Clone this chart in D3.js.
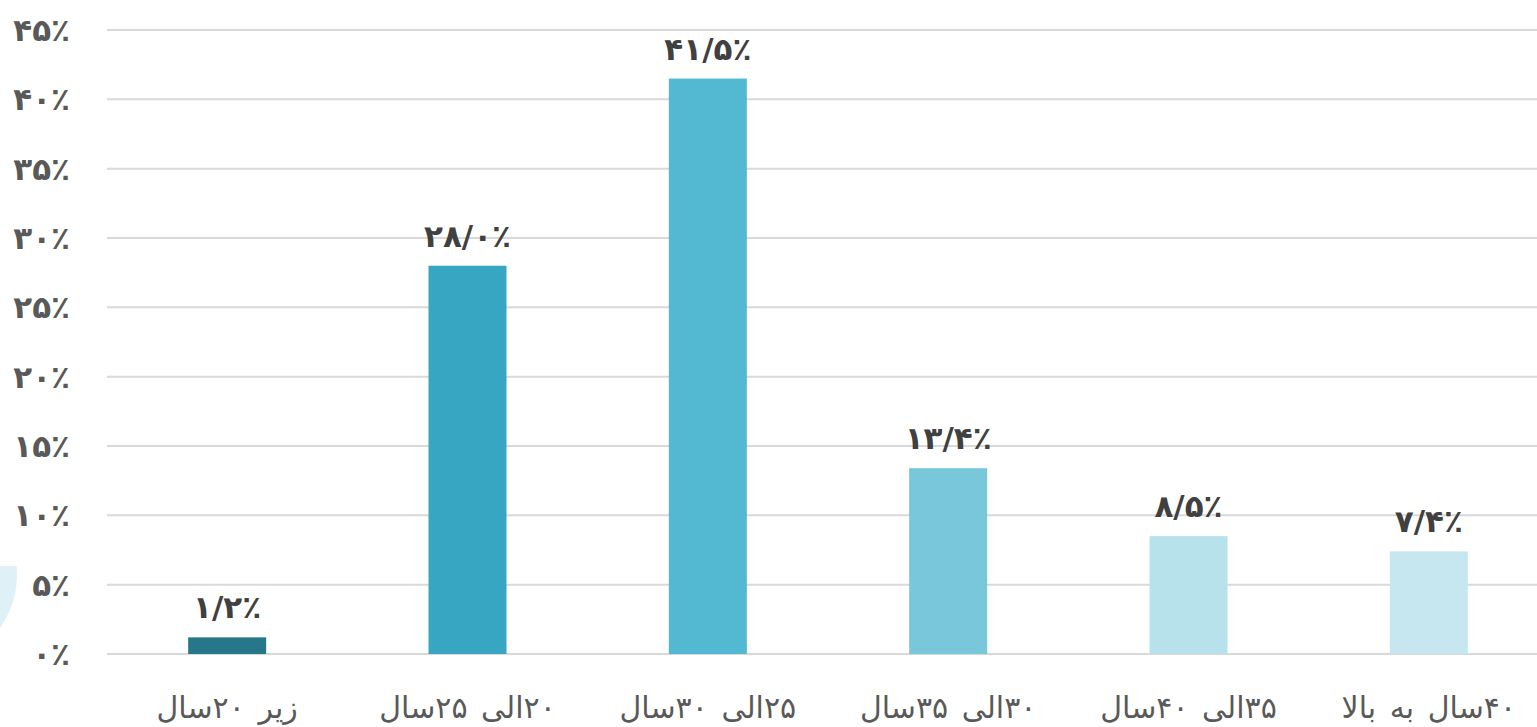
<!DOCTYPE html>
<html>
<head>
<meta charset="utf-8">
<script src="https://cdn.jsdelivr.net/npm/d3@7"></script>
<style>
  html, body { margin: 0; padding: 0; background: #fff; }
  svg { display: block; font-family: "DejaVu Sans", sans-serif; }
</style>
</head>
<body>
<svg width="1537" height="727"></svg>
<script>
// age groups and share of respondents (%)
var categories = ["زیر ۲۰سال", "۲۰الی ۲۵سال", "۲۵الی ۳۰سال", "۳۰الی ۳۵سال", "۳۵الی ۴۰سال", "۴۰سال به بالا"];
var values = [1.2, 28.0, 41.5, 13.4, 8.5, 7.4];
var barColors = ["#257789", "#37a6c2", "#53b8d1", "#78c7da", "#b7e2eb", "#c6e7ef"];
var yTicks = [0, 5, 10, 15, 20, 25, 30, 35, 40, 45];

var svg = d3.select("svg"),
    width = +svg.attr("width"),
    height = +svg.attr("height");

var faDigits = "۰۱۲۳۴۵۶۷۸۹";
function fa(s) {
  return String(s).replace(/[0-9]/g, function(c) { return faDigits[+c]; });
}

var data = categories.map(function(c, i) { return {cat: c, value: values[i], color: barColors[i]}; });

var x = d3.scaleBand()
    .domain(categories)
    .range([107, 1549])
    .padding(0);

var y = d3.scaleLinear()
    .domain([0, 45])
    .range([654, 30]);

var barWidth = 78;

// decorative blob at the left edge
svg.append("clipPath")
    .attr("id", "blobclip")
  .append("rect")
    .attr("x", 0).attr("y", 566)
    .attr("width", 200).attr("height", 120);

svg.append("circle")
    .attr("cx", -74)
    .attr("cy", 575)
    .attr("r", 91)
    .attr("clip-path", "url(#blobclip)")
    .style("fill", "#dff1f6");

// grid
svg.append("g")
    .attr("class", "grid")
  .selectAll("line")
    .data(yTicks)
  .enter().append("line")
    .attr("x1", 107)
    .attr("x2", width)
    .attr("y1", function(d) { return y(d); })
    .attr("y2", function(d) { return y(d); })
    .style("stroke", "#d9d9d9")
    .style("stroke-width", 2);

// y labels
svg.append("g")
    .attr("class", "y-labels")
  .selectAll("text")
    .data(yTicks)
  .enter().append("text")
    .attr("x", 70)
    .attr("y", function(d) { return y(d); })
    .attr("dy", "0.36em")
    .attr("text-anchor", "end")
    .style("font-size", "31px")
    .style("font-weight", "bold")
    .style("fill", "#595959")
    .text(function(d) { return fa(d) + "٪"; });

// bars
svg.append("g")
    .attr("class", "bars")
  .selectAll("rect")
    .data(data)
  .enter().append("rect")
    .attr("x", function(d) { return x(d.cat) + x.bandwidth() / 2 - barWidth / 2; })
    .attr("y", function(d) { return y(d.value); })
    .attr("width", barWidth)
    .attr("height", function(d) { return y(0) - y(d.value); })
    .style("fill", function(d) { return d.color; });

// value labels
svg.append("g")
    .attr("class", "values")
  .selectAll("text")
    .data(data)
  .enter().append("text")
    .attr("x", function(d) { return x(d.cat) + x.bandwidth() / 2; })
    .attr("y", function(d) { return y(d.value) - 19; })
    .attr("text-anchor", "middle")
    .style("font-size", "31px")
    .style("font-weight", "bold")
    .style("fill", "#404040")
    .text(function(d) { return fa(d.value.toFixed(1)).replace(".", "/") + "٪"; });

// category labels
svg.append("g")
    .attr("class", "x-labels")
  .selectAll("text")
    .data(data)
  .enter().append("text")
    .attr("x", function(d) { return x(d.cat) + x.bandwidth() / 2; })
    .attr("y", 718)
    .attr("text-anchor", "middle")
    .attr("direction", "rtl")
    .style("font-size", "30px")
    .style("word-spacing", "4px")
    .style("fill", "#595959")
    .text(function(d) { return d.cat; });
</script>
</body>
</html>
